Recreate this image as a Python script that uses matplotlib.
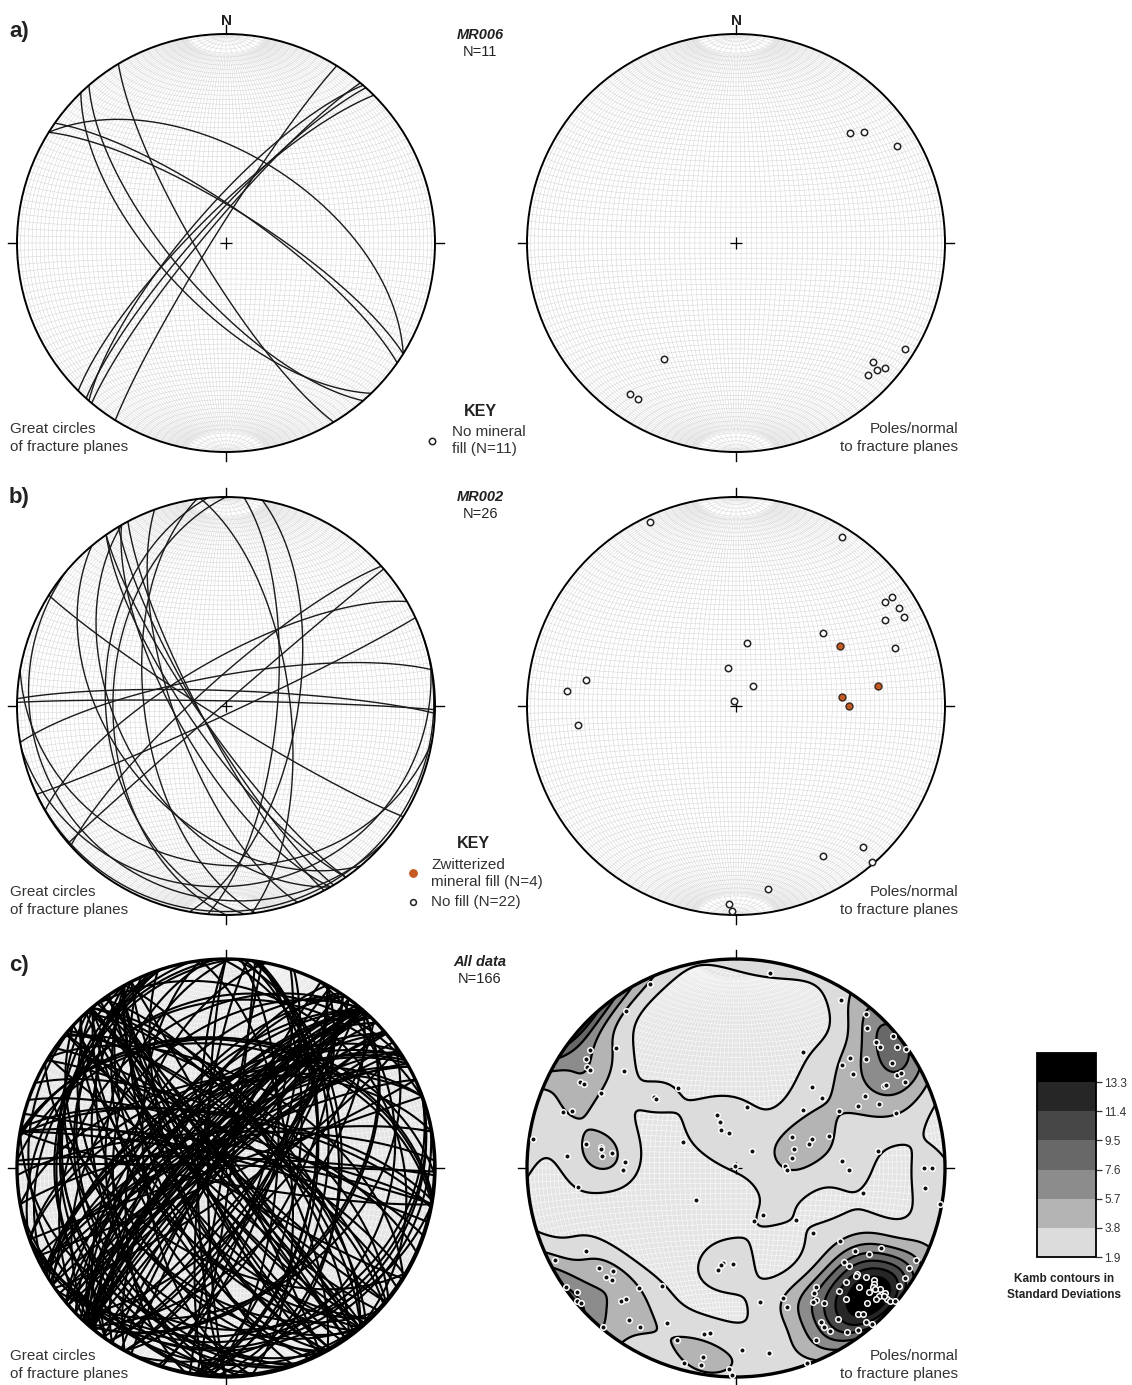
import numpy as np
import matplotlib.pyplot as plt
from matplotlib.lines import Line2D
from matplotlib.patches import Circle
from matplotlib.collections import LineCollection

plt.rcParams['font.family'] = ['Liberation Sans', 'DejaVu Sans']

W, H = 1132, 1385
R = 209  # net radius, pixels

# poles to fracture planes: trend / plunge in degrees, lower hemisphere
mr006_trend = [46, 49, 59, 122, 131, 130, 132, 135, 212, 215, 212]
mr006_plunge = [25, 20, 11, 5, 14, 8, 10, 12, 35, 13, 13]

mr002_open_trend = [335, 32, 55, 59, 62, 60, 55, 50, 70, 10, 348, 40, 340,
                    280, 275, 263, 138, 150, 139, 170, 182, 181]
mr002_open_plunge = [3, 5, 10, 10, 10, 19, 14, 45, 20, 65, 75, 80, 88,
                     28, 20, 25, 10, 18, 1, 12, 6, 2]
mr002_zw_trend = [60, 82, 85, 90]
mr002_zw_plunge = [42, 32, 48, 45]

all_trend = [10, 335, 325, 32, 40, 43, 50, 53, 55, 48,
             50, 56, 50, 46, 46, 51, 60, 60, 63, 61,
             61, 61, 66, 63, 71, 61, 49, 51, 43, 30,
             309, 315, 306, 304, 304, 311, 299, 299, 299, 311,
             311, 324, 288, 289, 10, 340, 341, 339, 348, 278,
             274, 279, 279, 275, 277, 278, 273, 269, 296, 44,
             330, 61, 72, 72, 69, 71, 80, 88, 92, 83,
             86, 91, 90, 90, 96, 263, 100, 101, 231, 150,
             161, 131, 130, 125, 241, 243, 234, 230, 230, 228,
             219, 212, 235, 232, 230, 229, 221, 220, 215, 211,
             220, 204, 191, 189, 199, 195, 190, 190, 182, 181,
             178, 170, 188, 189, 190, 182, 170, 160, 160, 160,
             155, 125, 123, 119, 117, 131, 131, 131, 132, 130,
             129, 130, 136, 120, 123, 126, 146, 148, 149, 150,
             147, 140, 140, 131, 130, 132, 130, 131, 131, 130,
             133, 136, 140, 139, 146, 151, 151, 150, 146, 143,
             140, 139, 131, 131, 133, 134]
all_plunge = [6, 3, 9, 6, 4, 9, 2, 4, 1, 11,
              11, 11, 20, 25, 30, 29, 12, 10, 10, 20,
              19, 30, 26, 35, 20, 43, 55, 46, 46, 36,
              11, 20, 12, 15, 17, 30, 16, 18, 27, 47,
              48, 51, 14, 18, 66, 68, 71, 74, 76, 2,
              20, 28, 35, 36, 40, 35, 46, 45, 67, 81,
              89, 65, 66, 60, 58, 51, 68, 71, 70, 32,
              48, 45, 11, 7, 10, 25, 1, 38, 70, 69,
              68, 59, 50, 39, 19, 3, 20, 24, 20, 21,
              27, 34, 1, 4, 1, 2, 17, 19, 12, 12,
              1, 20, 20, 21, 14, 4, 9, 5, 4, 1,
              14, 11, 52, 51, 49, 52, 35, 34, 30, 1,
              10, 31, 25, 22, 4, 32, 29, 24, 24, 20,
              16, 15, 25, 5, 4, 4, 32, 30, 27, 27,
              24, 24, 19, 14, 11, 9, 8, 5, 3, 1,
              9, 11, 10, 8, 14, 17, 14, 11, 6, 3,
              4, 1, 13, 7, 14, 19]

kamb_levels = [1.9, 3.8, 5.7, 7.6, 9.5, 11.4, 13.3]
kamb_colors = ['#dcdcdc', '#b4b4b4', '#8c8c8c', '#686868', '#474747', '#262626', '#000000']


def to_xyz(trend, plunge):
    t = np.radians(np.asarray(trend, float))
    p = np.radians(np.asarray(plunge, float))
    return np.column_stack([np.cos(p) * np.sin(t), np.cos(p) * np.cos(t), np.sin(p)])


def proj(v):
    # equal-area (Schmidt) lower hemisphere, primitive radius 1
    v = np.atleast_2d(v)
    s = np.sqrt(1 + v[:, 2])
    return v[:, 0] / s, v[:, 1] / s


def great_circle(trend, plunge, n=240):
    t, p = np.radians(trend), np.radians(plunge)
    h = np.array([np.cos(t), -np.sin(t), 0.0])
    d = np.array([-np.sin(p) * np.sin(t), -np.sin(p) * np.cos(t), np.cos(p)])
    phi = np.linspace(0, np.pi, n)[:, None]
    return proj(np.cos(phi) * h + np.sin(phi) * d)


def net_segments():
    segs = []
    phi = np.linspace(0, np.pi, 241)
    lim = np.sin(np.radians(80))
    for k in range(2, 180, 2):
        dl = np.radians(k)
        ph = phi if k % 10 == 0 else phi[np.abs(np.cos(phi)) <= lim]
        v = np.column_stack([np.sin(ph) * np.cos(dl), np.cos(ph), np.sin(ph) * np.sin(dl)])
        segs.append(np.column_stack(proj(v)))
    for k in range(2, 180, 2):
        a = np.radians(k)
        v = np.column_stack([np.sin(a) * np.cos(phi), np.full_like(phi, np.cos(a)), np.sin(a) * np.sin(phi)])
        segs.append(np.column_stack(proj(v)))
    return segs


NET = net_segments()


def kamb(trend, plunge, n=261, sigma=3.0):
    # exponential Kamb density in standard deviations
    g = np.linspace(-1.02, 1.02, n)
    X, Y = np.meshgrid(g, g)
    r = np.hypot(X, Y)
    sc = np.where(r > 1, 1 / np.maximum(r, 1e-9), 1.0)
    Xc, Yc = X * sc, Y * sc
    r2 = Xc ** 2 + Yc ** 2
    f = np.sqrt(2 - r2)
    xyz = np.column_stack([(Xc * f).ravel(), (Yc * f).ravel(), (1 - r2).ravel()])
    poles = to_xyz(trend, plunge)
    N = len(poles)
    k = 2 * (1 + N / sigma ** 2)
    units = np.sqrt(N * (k / 2 - 1) / k ** 2)
    cosd = np.abs(xyz @ poles.T)
    dens = np.exp(k * (cosd - 1)).sum(axis=1) / units
    return X, Y, dens.reshape(X.shape)


fig = plt.figure(figsize=(W / 100, H / 100), dpi=100)


def net_axes(cx, cy, shaded=False):
    pad = 1.13
    ax = fig.add_axes([(cx - R * pad) / W, 1 - (cy + R * pad) / H, 2 * R * pad / W, 2 * R * pad / H])
    ax.set_xlim(-pad, pad)
    ax.set_ylim(-pad, pad)
    ax.axis('off')
    if shaded:
        ax.add_patch(Circle((0, 0), 1, fc='#e4e4e4', ec='none', zorder=0))
        col = 'white'
    else:
        col = '#d4d4d4'
    ax.add_collection(LineCollection(NET, colors=col, linewidths=0.35, zorder=1))
    return ax


def frame(ax, lw=1.4):
    ax.add_patch(Circle((0, 0), 1, fc='none', ec='black', lw=lw, zorder=6))
    for xs, ys in [([0, 0], [1, 1.045]), ([0, 0], [-1, -1.045]),
                   ([1, 1.045], [0, 0]), ([-1, -1.045], [0, 0])]:
        ax.plot(xs, ys, color='black', lw=1.0, zorder=6, clip_on=False)
    ax.plot(0, 0, marker='+', ms=9, mew=0.9, color='black', zorder=5)


def planes(ax, trend, plunge, lw=1.0, color='#1a1a1a'):
    for t, p in zip(trend, plunge):
        x, y = great_circle(t, p)
        ax.plot(x, y, color=color, lw=lw, zorder=4, solid_capstyle='butt')


def label(x, y, s, **kw):
    fig.text(x / W, 1 - y / H, s, va='center', **kw)


def key_marker(x, y, **kw):
    fig.add_artist(Line2D([x / W], [1 - y / H], marker='o', ls='none', **kw))


open_style = dict(ls='none', marker='o', ms=4.6, mfc='white', mec='#222222', mew=1.1, zorder=7)

# a) MR006
ax = net_axes(226, 243)
planes(ax, mr006_trend, mr006_plunge)
frame(ax)
ax = net_axes(736, 243)
frame(ax)
ax.plot(*proj(to_xyz(mr006_trend, mr006_plunge)), **open_style)

# b) MR002
ax = net_axes(226, 706)
planes(ax, mr002_open_trend + mr002_zw_trend, mr002_open_plunge + mr002_zw_plunge)
frame(ax)
ax = net_axes(736, 706)
frame(ax)
ax.plot(*proj(to_xyz(mr002_open_trend, mr002_open_plunge)), **open_style)
ax.plot(*proj(to_xyz(mr002_zw_trend, mr002_zw_plunge)), ls='none', marker='o', ms=5,
        mfc='#c45a22', mec='#3a2a20', mew=1.0, zorder=7)

# c) all data
ax = net_axes(226, 1168, shaded=True)
planes(ax, all_trend, all_plunge, lw=1.5, color='black')
frame(ax, lw=2.4)

ax = net_axes(736, 1168, shaded=True)
X, Y, D = kamb(all_trend, all_plunge)
top = max(15.2, D.max() + 0.01)
levels = kamb_levels + [top]
clip = Circle((0, 0), 1, transform=ax.transData, fc='none', ec='none')
cf = ax.contourf(X, Y, D, levels=levels, colors=kamb_colors, zorder=2)
cf.set_clip_path(clip)
cl = ax.contour(X, Y, D, levels=kamb_levels, colors='black', linewidths=1.6, zorder=3)
cl.set_clip_path(clip)
frame(ax, lw=2.4)
ax.plot(*proj(to_xyz(all_trend, all_plunge)), ls='none', marker='o', ms=4.0,
        mfc='#111111', mec='white', mew=1.1, zorder=7)

# colour scale
cax = fig.add_axes([1037 / W, 1 - 1257 / H, 59 / W, 204 / H])
cb = fig.colorbar(cf, cax=cax, ticks=kamb_levels, spacing='uniform')
cb.ax.set_yticklabels(['%.1f' % v for v in kamb_levels])
cb.ax.tick_params(labelsize=8.5, length=4, width=0.9, direction='out', colors='#333333', pad=2)
cb.outline.set_linewidth(1.3)
label(1064, 1279, 'Kamb contours in', ha='center', fontsize=8.5, fontweight='bold', color='#222222')
label(1064, 1295, 'Standard Deviations', ha='center', fontsize=8.5, fontweight='bold', color='#222222')

# panel labels and titles
for y, s in [(32, 'a)'), (498, 'b)'), (966, 'c)')]:
    label(9, y, s, fontsize=16, fontweight='bold', color='#222222')
for x in (226, 736):
    label(x, 21, 'N', ha='center', fontsize=11, fontweight='bold', color='#222222')
for y, name, n in [(35, 'MR006', 'N=11'), (497, 'MR002', 'N=26'), (962, 'All data', 'N=166')]:
    label(480, y, name, ha='center', fontsize=10.5, fontweight='bold', style='italic', color='#222222')
    label(480, y + 17, n, ha='center', fontsize=10.5, color='#222222')

for y in (429, 892, 1356):
    label(10, y, 'Great circles', fontsize=11, color='#333333')
    label(10, y + 18, 'of fracture planes', fontsize=11, color='#333333')
    label(958, y, 'Poles/normal', ha='right', fontsize=11, color='#333333')
    label(958, y + 18, 'to fracture planes', ha='right', fontsize=11, color='#333333')

# keys
label(480, 411, 'KEY', ha='center', fontsize=11.5, fontweight='bold', color='#222222')
key_marker(432, 441, ms=4.6, mfc='white', mec='#222222', mew=1.1)
label(452, 432, 'No mineral', fontsize=11, color='#333333')
label(452, 449, 'fill (N=11)', fontsize=11, color='#333333')

label(473, 843, 'KEY', ha='center', fontsize=11.5, fontweight='bold', color='#222222')
key_marker(413, 873, ms=5.5, mfc='#c45a22', mec='#c45a22', mew=0.8)
label(431, 865, 'Zwitterized', fontsize=11, color='#333333')
label(431, 882, 'mineral fill (N=4)', fontsize=11, color='#333333')
key_marker(413, 902, ms=4.2, mfc='white', mec='#222222', mew=1.1)
label(431, 902, 'No fill (N=22)', fontsize=11, color='#333333')

fig.savefig('out.png', dpi=100, facecolor='white')
